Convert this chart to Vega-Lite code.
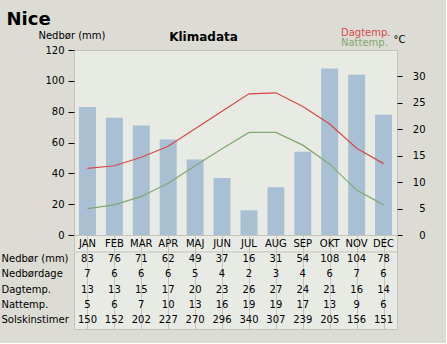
{
  "$schema": "https://vega.github.io/schema/vega-lite/v6.json",
  "background": "#dcdcd4",
  "padding": {"left": 0, "top": 11, "right": 20, "bottom": 13},
  "title": {"text": "Nice", "anchor": "start", "frame": "bounds", "fontSize": 18, "font": "DejaVu Sans", "fontWeight": "bold", "color": "#000000", "dx": 6, "dy": 1, "offset": 0},
  "datasets": {
    "klima": [
      {"nr": 1, "maaned": "JAN", "nedbor": 83, "nedbordage": 7, "dagtemp": 13, "nattemp": 5, "sol": 150, "dagkurve": 12.6, "natkurve": 5.0},
      {"nr": 2, "maaned": "FEB", "nedbor": 76, "nedbordage": 6, "dagtemp": 13, "nattemp": 6, "sol": 152, "dagkurve": 13.1, "natkurve": 5.7},
      {"nr": 3, "maaned": "MAR", "nedbor": 71, "nedbordage": 6, "dagtemp": 15, "nattemp": 7, "sol": 202, "dagkurve": 14.7, "natkurve": 7.3},
      {"nr": 4, "maaned": "APR", "nedbor": 62, "nedbordage": 6, "dagtemp": 17, "nattemp": 10, "sol": 227, "dagkurve": 16.8, "natkurve": 9.8},
      {"nr": 5, "maaned": "MAJ", "nedbor": 49, "nedbordage": 5, "dagtemp": 20, "nattemp": 13, "sol": 270, "dagkurve": 20.1, "natkurve": 13.1},
      {"nr": 6, "maaned": "JUN", "nedbor": 37, "nedbordage": 4, "dagtemp": 23, "nattemp": 16, "sol": 296, "dagkurve": 23.4, "natkurve": 16.3},
      {"nr": 7, "maaned": "JUL", "nedbor": 16, "nedbordage": 2, "dagtemp": 26, "nattemp": 19, "sol": 340, "dagkurve": 26.7, "natkurve": 19.4},
      {"nr": 8, "maaned": "AUG", "nedbor": 31, "nedbordage": 3, "dagtemp": 27, "nattemp": 19, "sol": 307, "dagkurve": 26.9, "natkurve": 19.4},
      {"nr": 9, "maaned": "SEP", "nedbor": 54, "nedbordage": 4, "dagtemp": 24, "nattemp": 17, "sol": 239, "dagkurve": 24.3, "natkurve": 17.0},
      {"nr": 10, "maaned": "OKT", "nedbor": 108, "nedbordage": 6, "dagtemp": 21, "nattemp": 13, "sol": 205, "dagkurve": 21.0, "natkurve": 13.4},
      {"nr": 11, "maaned": "NOV", "nedbor": 104, "nedbordage": 7, "dagtemp": 16, "nattemp": 9, "sol": 156, "dagkurve": 16.4, "natkurve": 8.5},
      {"nr": 12, "maaned": "DEC", "nedbor": 78, "nedbordage": 6, "dagtemp": 14, "nattemp": 6, "sol": 151, "dagkurve": 13.5, "natkurve": 5.7}
    ]
  },
  "vconcat": [
    {
      "width": 323,
      "height": 185,
      "title": {"text": "Klimadata", "fontSize": 12, "fontWeight": "bold", "font": "DejaVu Sans", "color": "#000000", "anchor": "middle", "dx": -32, "dy": 18},
      "data": {"name": "klima"},
      "layer": [
        {
          "mark": {"type": "bar", "color": "#a9c0d4"},
          "encoding": {
            "x": {"field": "maaned", "type": "ordinal", "sort": null,
                  "scale": {"domain": ["JAN","FEB","MAR","APR","MAJ","JUN","JUL","AUG","SEP","OKT","NOV","DEC"], "paddingInner": 0.37, "paddingOuter": 0.185},
                  "axis": null},
            "y": {"field": "nedbor", "type": "quantitative", "scale": {"domain": [0, 120]},
                  "axis": {"values": [0, 20, 40, 60, 80, 100, 120], "title": "Nedbør (mm)", "titleAngle": 0, "titleX": -2.5, "titleY": -12, "titleAlign": "center", "titleBaseline": "alphabetic", "tickSize": 6, "labelPadding": 4}}
          }
        },
        {
          "transform": [{"fold": ["dagkurve", "natkurve"], "as": ["serie", "temp"]}],
          "mark": {"type": "line", "strokeWidth": 1.2},
          "encoding": {
            "x": {"field": "maaned", "type": "ordinal", "sort": null},
            "y": {"field": "temp", "type": "quantitative", "scale": {"domain": [0, 35]},
                  "axis": {"orient": "right", "values": [0, 5, 10, 15, 20, 25, 30], "title": "°C", "titleAngle": 0, "titleX": -4, "titleY": -8, "titleAlign": "left", "titleBaseline": "alphabetic", "tickSize": 5, "labelAlign": "right", "labelPadding": 23}},
            "color": {"field": "serie", "type": "nominal",
                      "scale": {"domain": ["dagkurve", "natkurve"], "range": ["#d84848", "#80a870"]},
                      "legend": {"orient": "none", "legendX": 257, "legendY": -22, "title": null, "padding": 0,
                                 "labelExpr": "datum.value == 'dagkurve' ? 'Dagtemp.' : 'Nattemp.'",
                                 "symbolSize": 0, "symbolOpacity": 0, "symbolStrokeWidth": 0, "labelOffset": 0, "rowPadding": -3,
                                 "labelFontSize": 10, "labelFont": "DejaVu Sans",
                                 "encode": {"labels": {"update": {"fill": {"scale": "color", "field": "value"}}}}}},
            "order": {"field": "nr", "type": "quantitative"}
          }
        }
      ],
      "resolve": {"scale": {"y": "independent"}}
    },
    {
      "width": 323,
      "height": 94,
      "data": {"name": "klima"},
      "layer": [
        {
          "transform": [{"fold": ["nedbor", "nedbordage", "dagtemp", "nattemp", "sol"], "as": ["raekke", "vaerdi"]}],
          "mark": {"type": "text", "fontSize": 10, "font": "DejaVu Sans", "color": "#000000"},
          "encoding": {
            "x": {"field": "maaned", "type": "ordinal", "sort": null,
                  "scale": {"domain": ["JAN","FEB","MAR","APR","MAJ","JUN","JUL","AUG","SEP","OKT","NOV","DEC"], "paddingInner": 0, "paddingOuter": 0},
                  "axis": {"grid": true, "gridColor": "#c4c4bc", "gridOpacity": 1, "bandPosition": 0, "ticks": false, "labels": false, "domain": false, "title": null}},
            "y": {"field": "raekke", "type": "ordinal",
                  "scale": {"domain": ["maaned", "nedbor", "nedbordage", "dagtemp", "nattemp", "sol"], "paddingInner": 0, "paddingOuter": 0.13},
                  "axis": {"title": null, "ticks": false, "tickSize": 0, "domain": false, "labelAlign": "left", "labelPadding": 73, "labelFontSize": 10,
                           "labelExpr": "datum.value == 'nedbor' ? 'Nedbør (mm)' : datum.value == 'nedbordage' ? 'Nedbørdage' : datum.value == 'dagtemp' ? 'Dagtemp.' : datum.value == 'nattemp' ? 'Nattemp.' : datum.value == 'sol' ? 'Solskinstimer' : ''"}},
            "text": {"field": "vaerdi", "type": "quantitative"}
          }
        },
        {
          "mark": {"type": "text", "fontSize": 10, "font": "DejaVu Sans", "color": "#000000"},
          "encoding": {
            "x": {"field": "maaned", "type": "ordinal", "sort": null},
            "y": {"datum": "maaned"},
            "text": {"field": "maaned", "type": "nominal"}
          }
        },
        {
          "data": {"values": [{"r": "nedbor"}]},
          "mark": {"type": "rule", "color": "#c4c4bc", "strokeWidth": 1},
          "encoding": {"y": {"field": "r", "type": "ordinal", "bandPosition": 0}}
        }
      ]
    }
  ],
  "spacing": 0,
  "bounds": "flush",
  "config": {
    "font": "DejaVu Sans",
    "view": {"stroke": "#c4c4bc", "fill": "#e8eae4"},
    "axis": {"labelFont": "DejaVu Sans", "labelFontSize": 10, "labelColor": "#000000", "titleFont": "DejaVu Sans", "titleFontWeight": "normal", "titleFontSize": 10, "titleColor": "#000000", "tickColor": "#000000", "domain": false, "grid": false}
  }
}
